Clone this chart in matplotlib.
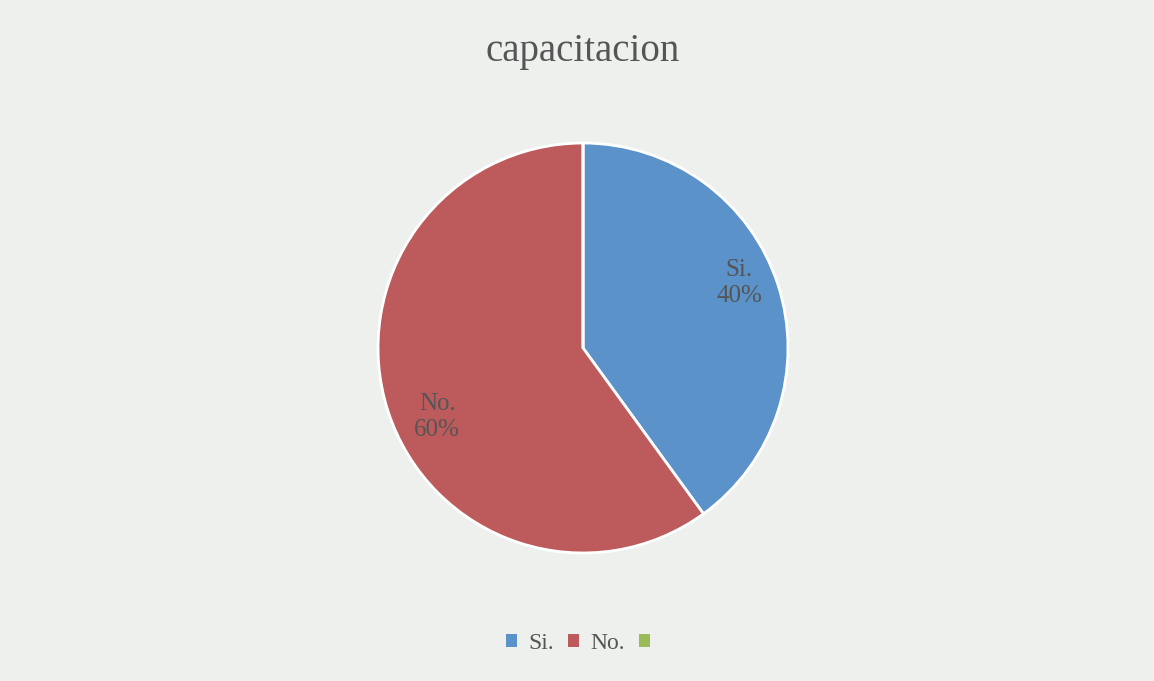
import matplotlib.pyplot as plt
from matplotlib.patches import Patch

categories = ['Si.', 'No.', '']
shares = [40, 60, 0]
colors = ['#5a92c9', '#bd5a5b', '#9bbb59']

plt.rcParams['font.family'] = ['Liberation Serif', 'DejaVu Serif']

fig = plt.figure(figsize=(11.54, 6.81), dpi=100)
fig.patch.set_facecolor('#eef0ee')

ax = fig.add_axes([0.3258, 0.185, 0.3588, 0.608])
labels = [f"{c}\n{s}%" if s > 0 else '' for c, s in zip(categories, shares)]
wedges, texts = ax.pie(shares, labels=labels, colors=colors, startangle=90,
                       counterclock=False, labeldistance=0.8,
                       wedgeprops=dict(edgecolor='white', linewidth=2),
                       textprops=dict(fontsize=18, color='#555555',
                                      ha='center', va='center'))
# nudge labels a little, like the Excel placement
texts[0].set_position((texts[0].get_position()[0], texts[0].get_position()[1] + 0.07))
texts[1].set_position((texts[1].get_position()[0] + 0.05, texts[1].get_position()[1] - 0.09))
ax.set_xlim(-1.01, 1.01)
ax.set_ylim(-1.01, 1.01)
ax.set_aspect('equal')

fig.text(0.505, 0.925, 'capacitacion', ha='center', va='center',
         fontsize=28, color='#555555')

handles = [Patch(facecolor=c, edgecolor='none') for c in colors]
fig.legend(handles, categories, loc='center', bbox_to_anchor=(0.506, 0.055),
           ncol=3, frameon=False, fontsize=17, handlelength=0.45,
           handleheight=0.45, handletextpad=0.5, columnspacing=0.6,
           labelcolor='#555555')

fig.savefig('out.png', dpi=100, facecolor=fig.get_facecolor())
